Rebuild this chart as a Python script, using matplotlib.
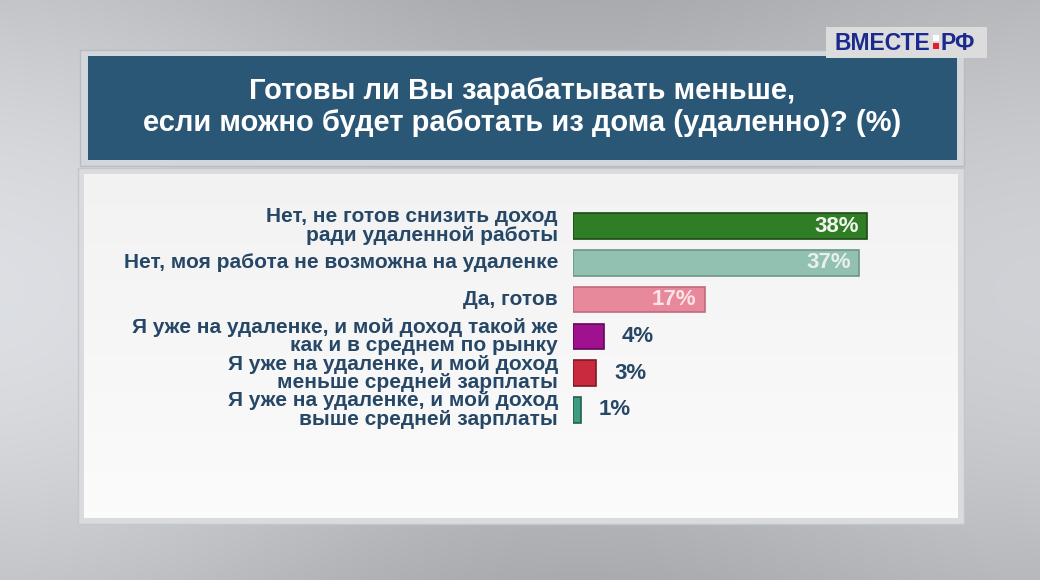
import numpy as np
import matplotlib
matplotlib.use('Agg')
import matplotlib.pyplot as plt
from matplotlib.patches import Rectangle
from matplotlib import transforms

plt.rcParams['font.family'] = ['Liberation Sans Narrow', 'Liberation Sans', 'DejaVu Sans']

TITLE = 'Готовы ли Вы зарабатывать меньше,\nесли можно будет работать из дома (удаленно)? (%)'
CATEGORIES = [
    'Нет, не готов снизить доход\nради удаленной работы',
    'Нет, моя работа не возможна на удаленке',
    'Да, готов',
    'Я уже на удаленке, и мой доход такой же\nкак и в среднем по рынку',
    'Я уже на удаленке, и мой доход\nменьше средней зарплаты',
    'Я уже на удаленке, и мой доход\nвыше средней зарплаты',
]
VALUES = [38, 37, 17, 4, 3, 1]
COLORS = ['#2f7d25', '#92c1b2', '#e8899b', '#a0118f', '#c92a3d', '#3f9c80']
EDGES = ['#1d4a17', '#6f9488', '#c06a7b', '#5e0a55', '#7e1a27', '#23604d']
INSIDE_TEXT = ['#f4f4f0', '#e9efec', '#fbe3e8']

W, H = 1040, 580
fig = plt.figure(figsize=(W / 100, H / 100), dpi=100)

# backdrop
bg = fig.add_axes([0, 0, 1, 1])
bg.set_xlim(0, W)
bg.set_ylim(H, 0)
bg.axis('off')
yy, xx = np.mgrid[0:H, 0:W]
shade = 0.75 + 0.10 * np.sin(yy / H * np.pi) - 0.05 * (xx / W) + 0.04 * np.cos(xx / W * 6)
bg.imshow(np.dstack([shade * 0.97, shade * 0.98, shade]).clip(0, 1),
          extent=(0, W, H, 0), aspect='auto', zorder=0)

# title banner
bg.add_patch(Rectangle((80, 50), 884, 116, facecolor='#d3d6da', edgecolor='#b8bcc0', lw=1, zorder=1))
bg.add_patch(Rectangle((88, 56), 869, 104, facecolor='#2b5777', edgecolor='none', zorder=2))
bg.text(522, 107, TITLE, color='white', fontsize=21, fontweight='bold',
        family=['Liberation Sans', 'DejaVu Sans'],
        ha='center', va='center', linespacing=1.2, zorder=3)

# white panel
bg.add_patch(Rectangle((78, 168), 886, 356, facecolor='#d9dbde', edgecolor='#c3c6ca', lw=1, zorder=1))
panel = np.linspace(0.95, 0.985, 100)[:, None] * np.ones((1, 10))
bg.imshow(np.dstack([panel, panel, panel]), extent=(84, 958, 518, 174),
          aspect='auto', zorder=2)

# logo
bg.add_patch(Rectangle((826, 27), 161, 31, facecolor='#dcdcdc', edgecolor='none', zorder=2))
bg.text(834, 43, 'ВМЕСТЕ', color='#1b2a8e', fontsize=16.5, fontweight='bold',
        family=['Liberation Sans', 'DejaVu Sans'], ha='left', va='center', zorder=3)
bg.add_patch(Rectangle((933, 35), 6, 6, facecolor='white', edgecolor='none', zorder=3))
bg.add_patch(Rectangle((933, 43), 6, 6, facecolor='#e0202a', edgecolor='none', zorder=3))
bg.text(941, 43, 'РФ', color='#1b2a8e', fontsize=16.5, fontweight='bold',
        family=['Liberation Sans', 'DejaVu Sans'], ha='left', va='center', zorder=3)

# bars
px_per_pct = 7.74
left_px, right_px = 573, 957
top_px, bot_px = 207.6, 428.4
ax = fig.add_axes([left_px / W, 1 - bot_px / H, (right_px - left_px) / W, (bot_px - top_px) / H])
ax.set_xlim(0, (right_px - left_px) / px_per_pct)
ax.set_ylim(len(VALUES) - 0.5, -0.5)
ax.axis('off')

y = np.arange(len(VALUES))
ax.barh(y, VALUES, height=0.7, color=COLORS, edgecolor=EDGES, linewidth=1.2)

lab_tr = transforms.offset_copy(ax.transData, fig=fig, x=-15, y=0, units='dots')
for i, (cat, v) in enumerate(zip(CATEGORIES, VALUES)):
    ax.text(0, i, cat, transform=lab_tr, ha='right', va='center', multialignment='right',
            color='#264766', fontsize=15, fontweight='bold', linespacing=0.95)
    if v >= 10:
        tr = transforms.offset_copy(ax.transData, fig=fig, x=-8, y=0, units='dots')
        ax.text(v, i, f'{v}%', transform=tr, ha='right', va='center',
                color=INSIDE_TEXT[i], fontsize=16, fontweight='bold',
                family=['Liberation Sans', 'DejaVu Sans'])
    else:
        tr = transforms.offset_copy(ax.transData, fig=fig, x=18, y=0, units='dots')
        ax.text(v, i, f'{v}%', transform=tr, ha='left', va='center',
                color='#264766', fontsize=16, fontweight='bold',
                family=['Liberation Sans', 'DejaVu Sans'])

fig.savefig('out.png', dpi=100)
